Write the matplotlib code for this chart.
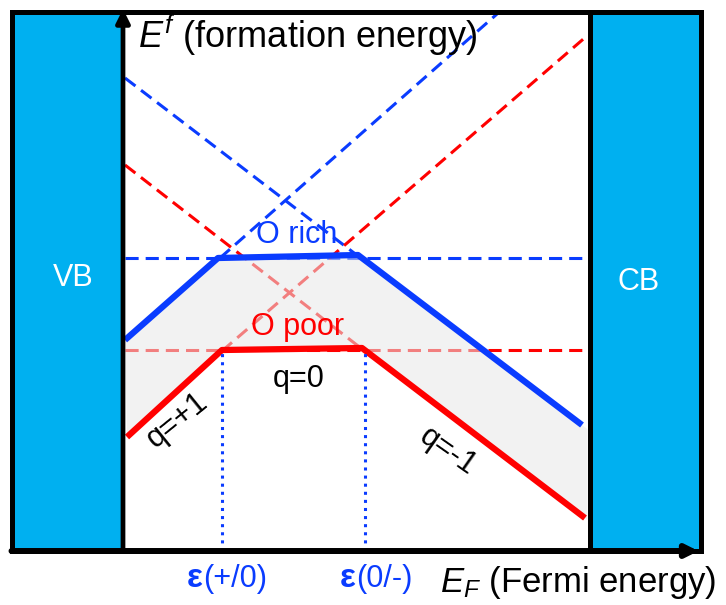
import matplotlib
matplotlib.use("Agg")
import matplotlib.pyplot as plt
from matplotlib.patches import Rectangle, Polygon
import numpy as np

plt.rcParams['font.family'] = ['Liberation Sans', 'DejaVu Sans']
plt.rcParams['mathtext.fontset'] = 'custom'
plt.rcParams['mathtext.rm'] = 'Liberation Sans'
plt.rcParams['mathtext.it'] = 'Liberation Sans:italic'

# band edges (VBM at 0)
gap = 4.665
vb_width = 1.115
cb_width = 1.11
top = 5.39

# solid formation energy curves, kinks at the transition levels
rich_x = [0.02, 0.95, 2.35, 4.59]
rich_y = [2.11, 2.93, 2.96, 1.26]
poor_x = [0.04, 0.99, 2.39, 4.62]
poor_y = [1.14, 2.01, 2.03, 0.33]

# dashed extensions of each charge state
rich_flat = 2.93
poor_flat = 2.01
rich_minus = ([0.02, 2.35], [4.73, 2.95])
rich_plus = ([0.97, 3.74], [2.93, 5.37])
poor_minus = ([0.02, 2.39], [3.86, 2.02])
poor_plus = ([0.99, 4.65], [2.00, 5.16])

# transition levels
eps = [0.99, 2.42]
eps_labels = ['(+/0)', '(0/-)']
eps_text_x = [0.80, 2.33]

blue = '#0a3cff'
red = '#ff0000'
band = '#00b0f0'

fig = plt.figure(figsize=(7.26, 6.05), dpi=100)
ax = fig.add_axes([0, 0, 1, 1])
ax.set_xlim(-1.23, 6.03)
ax.set_ylim(-0.54, 5.51)
ax.axis('off')

# VB / CB blocks
ax.add_patch(Rectangle((-vb_width, 0), vb_width, top, color=band, zorder=1))
ax.add_patch(Rectangle((gap, 0), cb_width, top, color=band, zorder=1))

dash = dict(lw=2.2, dashes=(4.3, 2.3), zorder=2)
ax.plot([0.02, gap], [rich_flat, rich_flat], color=blue, **dash)
ax.plot([0.02, gap], [poor_flat, poor_flat], color=red, **dash)
ax.plot(*rich_minus, color=blue, **dash)
ax.plot(*rich_plus, color=blue, **dash)
ax.plot(*poor_minus, color=red, **dash)
ax.plot(*poor_plus, color=red, **dash)

# shaded range between O rich and O poor, closed at the CB edge
def at_gap(xs, ys):
    k = (ys[-1] - ys[-2]) / (xs[-1] - xs[-2])
    return ys[-1] + k * (gap - 0.02 - xs[-1])

poly = (list(zip(rich_x, rich_y)) + [(gap - 0.02, at_gap(rich_x, rich_y)),
                                     (gap - 0.02, at_gap(poor_x, poor_y))]
        + list(zip(poor_x[::-1], poor_y[::-1])))
ax.add_patch(Polygon(poly, closed=True, facecolor='#e8e8e8', edgecolor='none',
                     alpha=0.55, zorder=3))

ax.plot(rich_x, rich_y, color=blue, lw=4.5, zorder=4, solid_capstyle='butt')
ax.plot(poor_x, poor_y, color=red, lw=4.5, zorder=4, solid_capstyle='butt')

# transition level markers
eps_top = np.interp(eps, poor_x, poor_y)
for x, y in zip(eps, eps_top):
    ax.plot([x, x], [0, y - 0.03], color=blue, lw=2.2, ls=':', zorder=4)

# frame and axes
ax.add_patch(Rectangle((-vb_width, 0), vb_width + gap + cb_width, top,
                       fill=False, edgecolor='k', lw=3.6, zorder=5))
ax.plot([gap, gap], [0, top], color='k', lw=3.6, zorder=5)
ax.annotate('', xy=(0, top + 0.03), xytext=(0, 0),
            arrowprops=dict(arrowstyle='-|>', lw=3.4, color='k',
                            mutation_scale=20, shrinkA=0, shrinkB=0), zorder=6)
ax.annotate('', xy=(gap + cb_width - 0.02, 0), xytext=(-vb_width, 0),
            arrowprops=dict(arrowstyle='-|>', lw=4.3, color='k',
                            mutation_scale=18, shrinkA=0, shrinkB=0), zorder=6)

# labels
ax.text(-0.495, 2.73, 'VB', color='white', fontsize=22, ha='center', va='center')
ax.text(5.16, 2.69, 'CB', color='white', fontsize=22, ha='center', va='center')
ax.text(1.74, 3.08, 'O rich', color=blue, fontsize=22, ha='center', va='baseline', zorder=7)
ax.text(1.75, 2.16, 'O poor', color=red, fontsize=22, ha='center', va='baseline', zorder=7)
ax.text(1.76, 1.64, 'q=0', color='k', fontsize=22, ha='center', va='baseline')
ax.text(0.54, 1.31, 'q=+1', color='k', fontsize=22, ha='center', va='center',
        rotation=39, rotation_mode='anchor')
ax.text(3.25, 1.00, 'q=-1', color='k', fontsize=22, ha='center', va='center',
        rotation=-35, rotation_mode='anchor')
ax.text(0.15, 5.03, '$E^f$ (formation energy)', fontsize=26, ha='left', va='baseline', zorder=7)
ax.text(3.17, -0.41, '$E_F$ (Fermi energy)', fontsize=25, ha='left', va='baseline')

for x0, lab in zip(eps_text_x, eps_labels):
    ax.text(x0, -0.36, 'ε', color=blue, fontsize=24, fontweight='bold',
            ha='right', va='baseline')
    ax.text(x0, -0.36, lab, color=blue, fontsize=22, ha='left', va='baseline')

fig.savefig('out.png', dpi=100)
